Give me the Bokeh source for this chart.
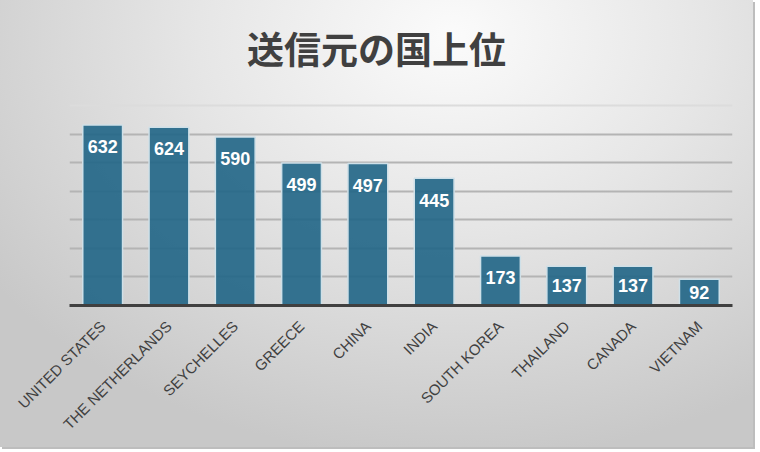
from bokeh.plotting import figure
from bokeh.models import Range1d, FactorRange, FixedTicker, Span, Label
from bokeh.core.properties import value
from bokeh.embed import file_html
from bokeh.resources import INLINE
import math

# ---- data ----
countries = ["UNITED STATES", "THE NETHERLANDS", "SEYCHELLES", "GREECE", "CHINA",
             "INDIA", "SOUTH KOREA", "THAILAND", "CANADA", "VIETNAM"]
counts = [632, 624, 590, 499, 497, 445, 173, 137, 137, 92]
grid_ticks = [100, 200, 300, 400, 500, 600]
y_max = 700
title_text = "送信元の国上位"

# ---- styling / layout constants ----
DARK = "#404040"
BAR = "#206586"
LABEL_INSET = 76          # data units below bar top (about 22px)
FRAME_H = 305             # frame reaches the top of the canvas (title lives inside it)
AXIS_H = 200              # pixels used by 0..y_max
y_top = y_max * FRAME_H / AXIS_H

p = figure(x_range=FactorRange(*countries), y_range=Range1d(0, y_top),
           width=753, height=447, output_backend="svg", toolbar_location=None,
           y_axis_location=None,
           min_border_left=69, min_border_right=21,
           min_border_top=0, min_border_bottom=142)

p.background_fill_alpha = 0
p.border_fill_alpha = 0
p.outline_line_color = None
p.styles = {
    "background": "radial-gradient(ellipse 75% 95% at 60% 8%, #fbfbfb 0%, #e6e6e6 45%, #c8c8c8 100%)",
    "box-shadow": "2px 2px 0 #bdbdbd",
}

# grid
p.xgrid.grid_line_color = None
p.ygrid.ticker = FixedTicker(ticks=grid_ticks)
p.ygrid.grid_line_color = "#b4b4b4"
p.ygrid.grid_line_width = 2
p.add_layout(Span(location=y_max, dimension="width", line_color="#dcdcdc", line_width=2))

# bars
p.vbar(x=countries, top=counts, width=0.6, fill_color=BAR, fill_alpha=0.9,
       line_color="#cfe0e8", line_width=1.5)

# value labels: inside end, or centred when the bar is short
label_y = [max(v - LABEL_INSET, v / 2) for v in counts]
p.text(x=countries, y=label_y, text=[str(v) for v in counts],
       text_align="center", text_baseline="middle", text_color="white",
       text_font=value("Liberation Sans"), text_font_style="bold",
       text_font_size="18px")

# x axis
xa = p.xaxis[0]
xa.axis_line_color = DARK
xa.axis_line_width = 3
xa.major_tick_line_color = None
xa.minor_tick_line_color = None
xa.major_label_orientation = math.pi / 4
xa.major_label_text_font = "Liberation Sans"
xa.major_label_text_font_size = "15px"
xa.major_label_text_color = DARK
xa.major_label_standoff = 12

# title
title = Label(x=307, y=258, x_units="screen", y_units="screen", text=title_text,
              text_align="center", text_baseline="middle",
              text_font="Noto Sans CJK JP", text_font_size="37px",
              text_font_style="bold", text_color=DARK)
p.add_layout(title)

open("out.html", "w").write(file_html(p, INLINE))
